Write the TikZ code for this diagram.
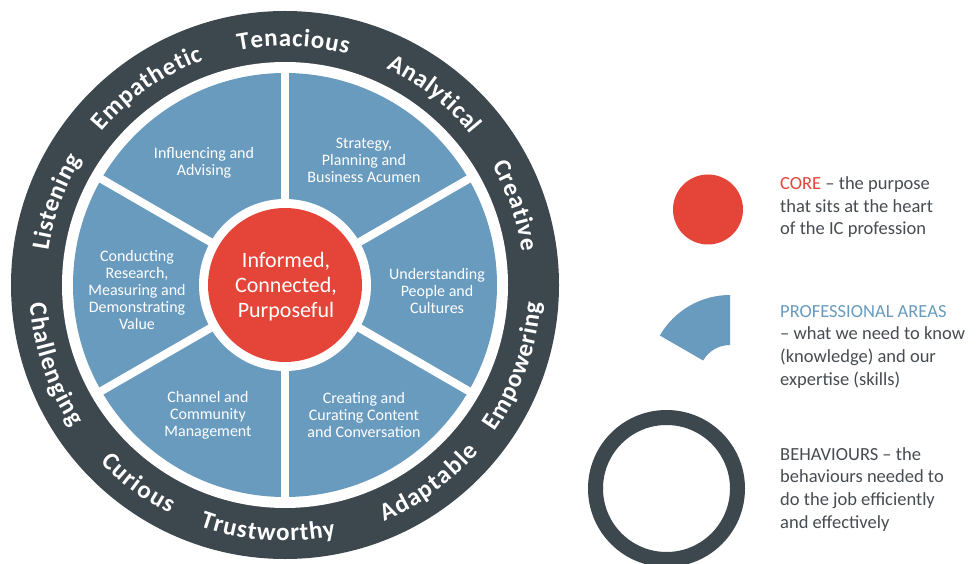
\documentclass[tikz,border=0pt]{standalone}
\usepackage{fontspec}
\setmainfont{Carlito}
\usetikzlibrary{decorations.text}

\definecolor{ringgrey}{RGB}{61,71,78}
\definecolor{areablue}{RGB}{105,155,191}
\definecolor{corered}{RGB}{228,69,56}
\definecolor{legendgrey}{RGB}{70,76,82}

\tikzset{
  areatext/.style={text=white, align=center, inner sep=0pt, font=\fontsize{16}{17}\selectfont},
  coretext/.style={text=white, align=center, inner sep=0pt, font=\fontsize{22}{25}\selectfont},
  legendtext/.style={text=legendgrey, align=left, inner sep=0pt, anchor=base west,
    font=\fontsize{18.5}{22.6}\selectfont},
  separator/.style={white, line width=8pt},
}

\newcommand{\ringfont}{\bfseries\fontsize{25}{25}\selectfont}
% a behaviour word on the upper half of the ring, read clockwise,
% spread over #2 degrees around the angle #1
\newcommand{\upperword}[3]{%
  \path[decorate, decoration={text along path, text={|\ringfont|#3},
      text align=fit to path, text color=white}]
    (#1+#2/2:239) arc[start angle=#1+#2/2, end angle=#1-#2/2, radius=239];}
% a behaviour word on the lower half of the ring, read anticlockwise
\newcommand{\lowerword}[3]{%
  \path[decorate, decoration={text along path, text={|\ringfont|#3},
      text align=fit to path, text color=white}]
    (#1-#2/2:256) arc[start angle=#1-#2/2, end angle=#1+#2/2, radius=256];}

\begin{document}
\begin{tikzpicture}[x=1pt, y=1pt]
\useasboundingbox (0,0) rectangle (977,563);
\clip (0,0) rectangle (977,563);
\fill[white] (0,0) rectangle (977,563);

% the wheel
\begin{scope}[shift={(285,278)}]
  \fill[ringgrey] (0,0) circle[radius=274];
  \fill[white] (0,0) circle[radius=223];
  \fill[areablue] (0,0) circle[radius=212];
  \foreach \a in {30,90,150,210,270,330}
    \draw[separator] (0,0) -- (\a:215);
  \fill[white] (0,0) circle[radius=86];
  \fill[corered] (0,0) circle[radius=77];

  \upperword{88}{26.5}{Tenacious}
  \upperword{52}{26}{Analytical}
  \upperword{19}{22}{Creative}
  \upperword{125}{30}{Empathetic}
  \upperword{160}{23.5}{Listening}
  \lowerword{-19.5}{31}{Empowering}
  \lowerword{-54}{26.5}{Adaptable}
  \lowerword{-94}{31}{Trustworthy}
  \lowerword{-126.5}{19.5}{Curious}
  \lowerword{-161}{29.5}{Challenging}
\end{scope}

% professional areas and the core
\node[coretext] (core) at (286,276) {Informed,\\Connected,\\Purposeful};
\node[areatext] (influencing) at (204,400) {Influencing and\\Advising};
\node[areatext] (strategy) at (364,403) {Strategy,\\Planning and\\Business Acumen};
\node[areatext] (research) at (137,272.5) {Conducting\\Research,\\Measuring and\\Demonstrating\\Value};
\node[areatext] (people) at (437,272) {Understanding\\People and\\Cultures};
\node[areatext] (channel) at (208,148) {Channel and\\Community\\Management};
\node[areatext] (content) at (364,148) {Creating and\\Curating Content\\and Conversation};

% key
\fill[corered] (708,353.5) circle[radius=35];
\begin{scope}[shift={(730,187)}]
  \fill[areablue] (90:81) arc[start angle=90, end angle=150, radius=81]
    -- (150:31) arc[start angle=150, end angle=90, radius=31] -- cycle;
\end{scope}
\draw[ringgrey, line width=15pt] (666.5,74.5) circle[radius=71];

% key texts, placed by the baseline of their last line
\node[legendtext] (corekey) at (780,328)
  {\textcolor{corered}{CORE} – the purpose\\that sits at the heart\\of the IC profession};
\node[legendtext] (areakey) at (780,178)
  {\textcolor{areablue}{PROFESSIONAL AREAS}\\– what we need to know\\(knowledge) and our\\expertise (skills)};
\node[legendtext] (behaviourkey) at (780,35)
  {BEHAVIOURS – the\\behaviours needed to\\do the job efficiently\\and effectively};
\end{tikzpicture}
\end{document}
